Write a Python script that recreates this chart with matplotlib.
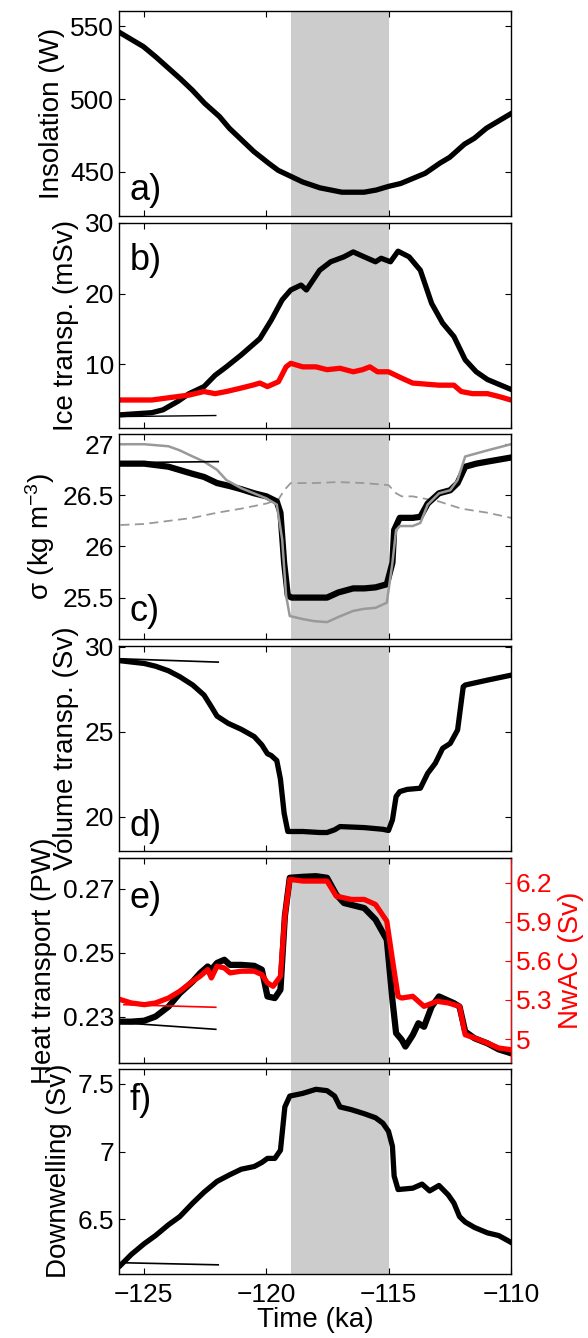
import matplotlib
matplotlib.use('Agg')
import matplotlib.pyplot as plt

plt.rcParams['font.family'] = ['Liberation Sans', 'DejaVu Sans']
plt.rcParams['mathtext.fontset'] = 'custom'
plt.rcParams['mathtext.rm'] = 'Liberation Sans'
plt.rcParams['mathtext.it'] = 'Liberation Sans:italic'
plt.rcParams['mathtext.default'] = 'regular'

# shaded interval (ka)
shade = [-119.0, -115.0]
xticks = [-125, -120, -115, -110]

# ---- a) insolation
t_ins = [-126, -125.5, -125, -124.5, -124.1, -123.5, -123, -122.5, -121.9, -121.5, -121,
         -120.5, -119.9, -119.5, -119, -118.5, -117.8, -117.5, -116.9, -116.5, -116, -115.5,
         -115, -114.5, -114, -113.5, -112.9, -112.5, -111.9, -111.5, -111, -110.5, -110]
ins = [546, 541, 536, 529, 523, 514, 506, 497, 488, 480, 472,
       464, 456, 451, 447, 443, 439, 438, 436, 436, 436, 437.5,
       440, 442, 445.5, 449, 456, 460, 469, 473, 480, 485, 490]

# ---- b) ice transport (mSv)
t_ice = [-125.94, -124.66, -124.21, -123.60, -123.14, -122.53, -122.08, -121.62, -121.01,
         -120.25, -119.79, -119.34, -118.99, -118.57, -118.35, -117.81, -117.36, -116.82,
         -116.44, -115.99, -115.53, -115.30, -114.92, -114.61, -114.16, -113.70, -113.24,
         -112.79, -112.33, -111.87, -111.42, -110.96, -110.0]
ice = [2.8, 3.1, 3.5, 4.7, 5.8, 6.8, 8.4, 9.6, 11.3,
       13.6, 16.2, 19.1, 20.5, 21.2, 20.5, 23.3, 24.5, 25.2,
       25.9, 25.2, 24.5, 25.0, 24.5, 26.0, 25.2, 23.3, 18.6,
       15.8, 13.9, 10.6, 8.9, 7.8, 6.4]
t_ice2 = [-125.94, -124.66, -123.14, -122.53, -122.08, -121.62, -121.01, -120.55, -120.25,
          -119.94, -119.49, -119.18, -118.99, -118.50, -117.96, -117.51, -116.98, -116.44,
          -116.06, -115.76, -115.45, -115.0, -114.46, -114.01, -112.94, -112.33, -112.03,
          -111.57, -110.96, -110.50, -110.0]
ice2 = [4.9, 4.9, 5.6, 6.1, 5.8, 6.1, 6.6, 7.0, 7.3,
        6.8, 7.5, 9.6, 10.1, 9.6, 9.6, 9.2, 9.4, 8.9,
        9.2, 9.6, 8.9, 8.9, 8.0, 7.3, 7.0, 7.0, 6.1,
        5.8, 5.8, 5.4, 4.9]
t_ice_ctl = [-125.9, -122.05]
ice_ctl = [2.55, 2.7]

# ---- c) density
t_sig = [-125.94, -124.97, -123.98, -122.99, -122.53, -122.0, -121.47, -121.01, -120.48,
         -119.98, -119.56, -119.41, -119.26, -119.11, -118.95, -118.04, -117.51, -117.05,
         -116.44, -115.99, -115.53, -115.07, -114.84, -114.77, -114.54, -114.01, -113.70,
         -113.40, -112.94, -112.48, -112.18, -111.87, -111.42, -110.96, -110.0]
sig = [26.81, 26.81, 26.78, 26.71, 26.68, 26.62, 26.59, 26.56, 26.52,
       26.49, 26.44, 26.33, 25.84, 25.52, 25.50, 25.50, 25.50, 25.55,
       25.59, 25.59, 25.60, 25.63, 25.84, 26.16, 26.28, 26.28, 26.29,
       26.42, 26.52, 26.55, 26.62, 26.78, 26.81, 26.83, 26.87]
t_sig_g = [-125.94, -124.97, -123.98, -123.52, -122.99, -122.53, -122.0, -121.62, -121.01,
           -119.98, -119.56, -119.34, -119.18, -119.03, -118.50, -118.04, -117.51, -117.05,
           -116.44, -115.99, -115.53, -115.07, -114.84, -114.69, -114.54, -114.01, -113.70,
           -113.40, -112.94, -112.48, -112.18, -111.87, -110.96, -110.0]
sig_g = [27.0, 27.0, 26.98, 26.94, 26.88, 26.83, 26.75, 26.65, 26.57,
         26.47, 26.41, 26.07, 25.52, 25.32, 25.29, 25.27, 25.26, 25.31,
         25.37, 25.39, 25.40, 25.45, 25.84, 26.16, 26.20, 26.20, 26.23,
         26.41, 26.52, 26.55, 26.65, 26.88, 26.94, 27.0]
t_sig_d = [-125.94, -124.97, -123.98, -122.99, -122.0, -121.01, -119.98, -119.49, -119.26,
           -118.99, -118.04, -117.05, -115.99, -115.0, -114.69, -114.46, -114.01, -112.94,
           -112.03, -110.96, -110.0]
sig_d = [26.21, 26.22, 26.25, 26.28, 26.33, 26.37, 26.42, 26.46, 26.55,
         26.62, 26.62, 26.63, 26.62, 26.60, 26.52, 26.49, 26.49, 26.44,
         26.37, 26.33, 26.28]
t_sig_ctl = [-125.8, -121.95]
sig_ctl = [26.82, 26.83]

# ---- d) volume transport (Sv)
t_vol = [-125.94, -124.97, -124.51, -123.98, -123.52, -122.99, -122.53, -122.23, -122.0,
         -121.54, -121.01, -120.48, -120.17, -119.94, -119.79, -119.56, -119.41, -119.26,
         -119.11, -118.50, -117.81, -117.51, -117.20, -116.98, -115.99, -115.23, -115.0,
         -114.84, -114.69, -114.54, -114.24, -113.70, -113.40, -113.09, -112.79, -112.48,
         -112.18, -111.95, -111.87, -110.96, -110.0]
vol = [29.18, 29.02, 28.86, 28.59, 28.24, 27.75, 27.16, 26.47, 25.92,
       25.49, 25.14, 24.71, 24.22, 23.7, 23.6, 23.3, 22.2, 20.2,
       19.12, 19.12, 19.06, 19.06, 19.22, 19.41, 19.35, 19.25, 19.18,
       19.80, 21.18, 21.47, 21.60, 21.67, 22.55, 23.14, 24.02, 24.31,
       25.10, 27.65, 27.75, 28.04, 28.33]
t_vol_ctl = [-126.0, -121.95]
vol_ctl = [29.3, 29.1]

# ---- e) heat transport (PW) and NwAC (Sv)
t_heat = [-125.94, -125.50, -124.97, -124.51, -123.98, -123.52, -122.99, -122.69, -122.38,
          -122.23, -122.0, -121.70, -121.47, -121.01, -120.48, -120.17, -119.94, -119.64,
          -119.41, -119.23, -119.03, -118.50, -117.96, -117.51, -117.13, -116.82, -115.99,
          -115.53, -115.07, -114.84, -114.69, -114.46, -114.31, -114.01, -113.78, -113.55,
          -113.24, -112.94, -112.33, -112.10, -111.87, -111.49, -110.96, -110.50, -110.0]
heat = [0.2284, 0.2284, 0.2287, 0.2300, 0.2331, 0.2373, 0.2410, 0.2436, 0.2457,
        0.2447, 0.2468, 0.2478, 0.2462, 0.2462, 0.2459, 0.2447, 0.2363, 0.2358,
        0.2384, 0.2614, 0.2735, 0.2738, 0.2740, 0.2735, 0.2682, 0.2656, 0.2640,
        0.2604, 0.2541, 0.2352, 0.2248, 0.2227, 0.2206, 0.2242, 0.2279, 0.2268,
        0.2331, 0.2363, 0.2342, 0.2331, 0.2253, 0.2232, 0.2216, 0.2197, 0.2185]
t_nwac = [-125.94, -125.50, -124.97, -124.51, -123.98, -123.52, -122.99, -122.69, -122.38,
          -122.23, -122.0, -121.70, -121.47, -121.01, -120.48, -120.17, -119.94, -119.71,
          -119.41, -119.23, -119.03, -118.50, -117.96, -117.51, -117.13, -116.52, -115.99,
          -115.53, -115.07, -114.84, -114.61, -114.46, -114.01, -113.55, -113.02, -112.56,
          -112.10, -111.87, -111.49, -110.96, -110.50, -110.0]
nwac = [5.303, 5.277, 5.264, 5.277, 5.315, 5.367, 5.444, 5.482, 5.533,
        5.469, 5.559, 5.546, 5.508, 5.521, 5.521, 5.495, 5.431, 5.405,
        5.482, 5.944, 6.226, 6.213, 6.213, 6.213, 6.097, 6.072, 6.072,
        6.033, 5.905, 5.610, 5.328, 5.315, 5.328, 5.251, 5.290, 5.277,
        5.251, 5.033, 5.008, 4.969, 4.931, 4.918]
t_heat_ctl = [-125.6, -122.05]
heat_ctl = [0.2279, 0.2260]
t_nwac_ctl = [-125.8, -122.05]
nwac_ctl = [5.264, 5.244]
nwac_ticks = [5, 5.3, 5.6, 5.9, 6.2]
nwac_ticklabels = ['5', '5.3', '5.6', '5.9', '6.2']

# ---- f) downwelling (Sv)
t_down = [-125.94, -125.50, -124.97, -124.51, -123.98, -123.52, -122.99, -122.53, -122.0,
          -121.47, -121.01, -120.48, -120.17, -119.94, -119.64, -119.41, -119.23, -119.03,
          -118.50, -117.96, -117.51, -117.20, -116.98, -116.52, -115.99, -115.53, -115.23,
          -115.0, -114.84, -114.77, -114.61, -114.01, -113.63, -113.32, -112.94, -112.56,
          -112.33, -112.10, -111.87, -111.49, -110.96, -110.50, -110.0]
down = [6.16, 6.24, 6.32, 6.38, 6.46, 6.52, 6.62, 6.70, 6.78,
        6.83, 6.87, 6.89, 6.92, 6.95, 6.95, 7.01, 7.33, 7.41,
        7.43, 7.46, 7.45, 7.41, 7.33, 7.31, 7.28, 7.25, 7.21,
        7.15, 7.04, 6.82, 6.72, 6.73, 6.76, 6.71, 6.75, 6.68,
        6.62, 6.52, 6.48, 6.44, 6.40, 6.38, 6.33]
t_down_ctl = [-126.0, -121.95]
down_ctl = [6.18, 6.164]

#-------------------------------------------------------------
W, H = 588, 1338
fig = plt.figure(figsize=(W / 100, H / 100), dpi=100)
tops = [11, 223, 434, 646, 858, 1069]
ph = 204.5
thick = 3.8
tsize = 19
axs = []
for tp in tops:
    ax = fig.add_axes([119 / W, 1 - (tp + ph) / H, 392 / W, ph / H])
    ax.axvspan(shade[0], shade[1], color='#cccccc', lw=0, zorder=0)
    ax.set_xlim(-126, -110)
    ax.set_xticks(xticks)
    ax.tick_params(direction='in', length=4, width=0.8, top=True, right=True,
                   labelsize=tsize, labelbottom=False)
    for s in ax.spines.values():
        s.set_linewidth(1.0)
    axs.append(ax)
ax_a, ax_b, ax_c, ax_d, ax_e, ax_f = axs

# a)
ax_a.plot(t_ins, ins, color='k', lw=thick)
ax_a.set_ylim(420, 560.5)
ax_a.set_yticks([450, 500, 550])
ax_a.set_ylabel('Insolation (W)', fontsize=20)

# b)
ax_b.plot(t_ice_ctl, ice_ctl, color='k', lw=1)
ax_b.plot(t_ice, ice, color='k', lw=thick)
ax_b.plot(t_ice2, ice2, color='red', lw=thick)
ax_b.set_ylim(1, 30)
ax_b.set_yticks([10, 20, 30])
ax_b.set_ylabel('Ice transp. (mSv)', fontsize=20)

# c)
ax_c.plot(t_sig_d, sig_d, color='#999999', lw=1.3, ls=(0, (5, 3)))
ax_c.plot(t_sig, sig, color='k', lw=4.5)
ax_c.plot(t_sig_g, sig_g, color='#999999', lw=1.8)
ax_c.plot(t_sig_ctl, sig_ctl, color='k', lw=1.2)
ax_c.set_ylim(25.1, 27.1)
ax_c.set_yticks([25.5, 26, 26.5, 27])
ax_c.set_yticklabels(['25.5', '26', '26.5', '27'])
ax_c.set_ylabel('σ (kg m$^{-3}$)', fontsize=20)

# d)
ax_d.plot(t_vol_ctl, vol_ctl, color='k', lw=1.2)
ax_d.plot(t_vol, vol, color='k', lw=thick)
ax_d.set_ylim(18, 30.05)
ax_d.set_yticks([20, 25, 30])
ax_d.set_ylabel('Volume transp. (Sv)', fontsize=20)

# e)
ax_e.plot(t_heat_ctl, heat_ctl, color='k', lw=1.2)
ax_e.plot(t_heat, heat, color='k', lw=4.5)
ax_e.set_ylim(0.2156, 0.2797)
ax_e.set_yticks([0.23, 0.25, 0.27])
ax_e.set_yticklabels(['0.23', '0.25', '0.27'])
ax_e.tick_params(axis='y', right=False)
ax_e.set_ylabel('Heat transport (PW)', fontsize=20)
ax_e2 = ax_e.twinx()
ax_e2.plot(t_nwac_ctl, nwac_ctl, color='red', lw=1.2)
ax_e2.plot(t_nwac, nwac, color='red', lw=thick)
ax_e2.set_ylim(4.82, 6.39)
ax_e2.set_yticks(nwac_ticks)
ax_e2.set_yticklabels(nwac_ticklabels)
ax_e2.tick_params(axis='y', direction='in', length=4, width=0.8, colors='red', labelsize=tsize)
ax_e2.spines['right'].set_color('red')
ax_e2.set_ylabel('NwAC (Sv)', fontsize=20, color='red')

# f)
ax_f.plot(t_down_ctl, down_ctl, color='k', lw=1.2)
ax_f.plot(t_down, down, color='k', lw=thick)
ax_f.set_ylim(6.1, 7.61)
ax_f.set_yticks([6.5, 7, 7.5])
ax_f.set_yticklabels(['6.5', '7', '7.5'])
ax_f.tick_params(axis='x', labelbottom=True, pad=7)
ax_f.set_ylabel('Downwelling (Sv)', fontsize=20)
ax_f.set_xlabel('Time (ka)', fontsize=20, labelpad=0)

# panel letters
letters = ['a)', 'b)', 'c)', 'd)', 'e)', 'f)']
letter_y = [0.075, 0.77, 0.085, 0.07, 0.755, 0.80]
for ax, lab, ly in zip(axs, letters, letter_y):
    ax.text(0.028, ly, lab, transform=ax.transAxes, fontsize=26, va='baseline', zorder=5)

fig.savefig('out.png', dpi=100)
